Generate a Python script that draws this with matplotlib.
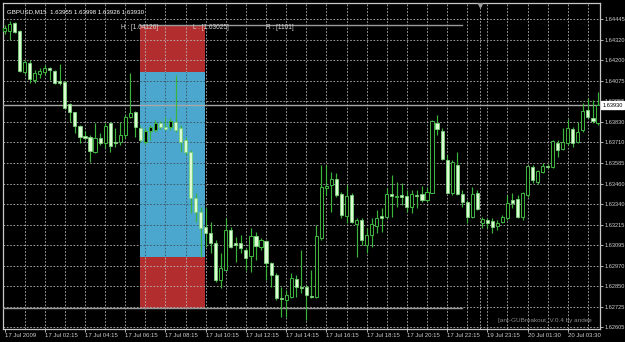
import matplotlib
matplotlib.use("Agg")
import matplotlib.pyplot as plt
from matplotlib.patches import Rectangle
from matplotlib.transforms import blended_transform_factory
import numpy as np

# GBPUSD M15 candles (left to right)
opens = [1.64373, 1.64373, 1.64421, 1.64373, 1.64128, 1.64182, 1.64080, 1.64116, 1.64128, 1.64152,
         1.64134, 1.64074, 1.64068, 1.63937, 1.63889, 1.63806, 1.63746, 1.63740, 1.63651, 1.63734,
         1.63704, 1.63824, 1.63710, 1.63710, 1.63752, 1.63860, 1.63889, 1.63794, 1.63710, 1.63776,
         1.63782, 1.63824, 1.63800, 1.63800, 1.63830, 1.63794, 1.63722, 1.63651, 1.63376, 1.63292,
         1.63203, 1.63167, 1.63107, 1.62886, 1.62946, 1.63185, 1.63107, 1.63107, 1.63066, 1.63030,
         1.63149, 1.63083, 1.63119, 1.62988, 1.62916, 1.62779, 1.62767, 1.62785, 1.62892, 1.62845,
         1.62845, 1.62791, 1.62785, 1.63137, 1.63436, 1.63454, 1.63489, 1.63400, 1.63268, 1.63394,
         1.63221, 1.63245, 1.63095, 1.63155, 1.63209, 1.63268, 1.63262, 1.63400, 1.63382, 1.63394,
         1.63388, 1.63322, 1.63394, 1.63400, 1.63364, 1.63406, 1.63824, 1.63776, 1.63603, 1.63406,
         1.63573, 1.63400, 1.63352, 1.63262, 1.63406, 1.63227, 1.63245, 1.63239, 1.63209, 1.63233,
         1.63257, 1.63364, 1.63370, 1.63262, 1.63394, 1.63561, 1.63471, 1.63531, 1.63567, 1.63561,
         1.63704, 1.63668, 1.63704, 1.63788, 1.63710, 1.63782, 1.63901, 1.63854, 1.63824]
highs = [1.64409, 1.64433, 1.64427, 1.64379, 1.64200, 1.64200, 1.64140, 1.64152, 1.64170, 1.64158,
         1.64140, 1.64176, 1.64074, 1.63943, 1.63889, 1.63812, 1.63776, 1.63752, 1.63824, 1.63764,
         1.63824, 1.63830, 1.63794, 1.63830, 1.63871, 1.64122, 1.63895, 1.63806, 1.63794, 1.63812,
         1.63842, 1.63836, 1.63860, 1.63854, 1.64110, 1.63812, 1.63740, 1.63662, 1.63406, 1.63322,
         1.63322, 1.63233, 1.63125, 1.63048, 1.63257, 1.63203, 1.63143, 1.63155, 1.63077, 1.63197,
         1.63173, 1.63137, 1.63125, 1.62994, 1.62928, 1.62845, 1.62827, 1.62928, 1.62916, 1.63066,
         1.62857, 1.62946, 1.63215, 1.63573, 1.63573, 1.63531, 1.63525, 1.63412, 1.63454, 1.63406,
         1.63257, 1.63257, 1.63197, 1.63257, 1.63304, 1.63316, 1.63436, 1.63513, 1.63471, 1.63466,
         1.63424, 1.63424, 1.63424, 1.63448, 1.63442, 1.63842, 1.63871, 1.63794, 1.63633, 1.63603,
         1.63651, 1.63424, 1.63364, 1.63442, 1.63424, 1.63262, 1.63257, 1.63257, 1.63245, 1.63274,
         1.63394, 1.63406, 1.63394, 1.63412, 1.63573, 1.63573, 1.63543, 1.63585, 1.63579, 1.63722,
         1.63722, 1.63794, 1.63848, 1.63800, 1.63830, 1.63943, 1.63973, 1.63961, 1.64009]
lows = [1.64355, 1.64319, 1.64361, 1.64128, 1.64116, 1.64062, 1.64062, 1.64092, 1.64110, 1.64080,
        1.64056, 1.64051, 1.63907, 1.63830, 1.63764, 1.63704, 1.63722, 1.63591, 1.63645, 1.63692,
        1.63674, 1.63651, 1.63680, 1.63692, 1.63734, 1.63854, 1.63740, 1.63710, 1.63698, 1.63722,
        1.63770, 1.63788, 1.63782, 1.63782, 1.63770, 1.63651, 1.63633, 1.63286, 1.63233, 1.63024,
        1.63083, 1.63048, 1.62874, 1.62839, 1.62946, 1.63077, 1.62994, 1.63048, 1.62946, 1.62934,
        1.63006, 1.63066, 1.62886, 1.62845, 1.62767, 1.62666, 1.62666, 1.62779, 1.62785, 1.62809,
        1.62648, 1.62779, 1.62779, 1.63125, 1.63394, 1.63292, 1.63382, 1.63257, 1.63227, 1.63227,
        1.63024, 1.63095, 1.63048, 1.63083, 1.63167, 1.63173, 1.63257, 1.63262, 1.63322, 1.63334,
        1.63292, 1.63286, 1.63316, 1.63352, 1.63352, 1.63406, 1.63752, 1.63603, 1.63406, 1.63394,
        1.63394, 1.63322, 1.63227, 1.63257, 1.63304, 1.63197, 1.63197, 1.63167, 1.63185, 1.63227,
        1.63245, 1.63316, 1.63257, 1.63245, 1.63382, 1.63466, 1.63460, 1.63525, 1.63555, 1.63555,
        1.63621, 1.63662, 1.63692, 1.63680, 1.63704, 1.63770, 1.63854, 1.63824, 1.63812]
closes = [1.64391, 1.64415, 1.64367, 1.64134, 1.64188, 1.64086, 1.64122, 1.64134, 1.64152, 1.64140,
          1.64062, 1.64062, 1.63913, 1.63889, 1.63806, 1.63740, 1.63734, 1.63656, 1.63734, 1.63704,
          1.63806, 1.63686, 1.63704, 1.63752, 1.63860, 1.63883, 1.63800, 1.63722, 1.63776, 1.63800,
          1.63824, 1.63800, 1.63788, 1.63836, 1.63782, 1.63710, 1.63651, 1.63376, 1.63292, 1.63197,
          1.63167, 1.63107, 1.62886, 1.62958, 1.63185, 1.63083, 1.63095, 1.63077, 1.63018, 1.63149,
          1.63089, 1.63125, 1.62988, 1.62916, 1.62779, 1.62773, 1.62797, 1.62898, 1.62845, 1.62839,
          1.62797, 1.62785, 1.63149, 1.63442, 1.63448, 1.63489, 1.63394, 1.63274, 1.63388, 1.63233,
          1.63245, 1.63125, 1.63155, 1.63221, 1.63257, 1.63257, 1.63400, 1.63388, 1.63388, 1.63382,
          1.63322, 1.63400, 1.63388, 1.63364, 1.63412, 1.63836, 1.63788, 1.63609, 1.63406, 1.63591,
          1.63400, 1.63352, 1.63262, 1.63400, 1.63310, 1.63251, 1.63227, 1.63203, 1.63227, 1.63262,
          1.63346, 1.63346, 1.63262, 1.63406, 1.63567, 1.63483, 1.63537, 1.63567, 1.63561, 1.63716,
          1.63662, 1.63710, 1.63794, 1.63704, 1.63770, 1.63895, 1.63860, 1.63836, 1.63930]

price_ticks = [1.64445, 1.64320, 1.64200, 1.64075, 1.63955, 1.63830, 1.63710, 1.63585,
               1.63460, 1.63340, 1.63215, 1.63095, 1.62970, 1.62850, 1.62725, 1.62605]
time_labels = ["17 Jul 2009", "17 Jul 02:15", "17 Jul 04:15", "17 Jul 06:15", "17 Jul 08:15",
               "17 Jul 10:15", "17 Jul 12:15", "17 Jul 14:15", "17 Jul 16:15", "17 Jul 18:15",
               "17 Jul 20:15", "17 Jul 22:15", "19 Jul 23:15", "20 Jul 01:30", "20 Jul 03:30"]
bid = 1.63930
title_ohlc = "GBPUSD,M15  1.63955 1.63998 1.63926 1.63930"
range_high = 1.64126
range_low = 1.63025
range_pips = 1101
zone_top = 1.64410
zone_bottom = 1.62720

plt.rcParams['font.family'] = ['Liberation Sans', 'DejaVu Sans']

fig = plt.figure(figsize=(6.25, 3.42), dpi=100, facecolor='black')
ax = fig.add_axes([3/625, 1-329/342, 597/625, 326/342], facecolor='black')

n = len(opens)
x = np.arange(n)
o = np.array(opens); c = np.array(closes)
h = np.array(highs); l = np.array(lows)

ax.set_xlim(-0.3, 118.4)
ax.set_ylim(1.62594, 1.64540)

# breakout box
box_l, box_r = 26.9, 39.8
ax.add_patch(Rectangle((box_l, range_high), box_r-box_l, zone_top-range_high,
                       color='#b22e2e', lw=0, zorder=1))
ax.add_patch(Rectangle((box_l, zone_bottom), box_r-box_l, range_low-zone_bottom,
                       color='#b22e2e', lw=0, zorder=1))
blue = Rectangle((box_l, range_low), box_r-box_l, range_high-range_low,
                 color='#4ba7cd', lw=0, zorder=1)
ax.add_patch(blue)

# dotted grid
gstyle = dict(ls=(0, (2, 2)), lw=0.6)
for p in price_ticks:
    ax.axhline(p, color='#b8b8b8', zorder=2, **gstyle)
    ln = ax.axhline(p, color='#1d4c66', zorder=2.1, **gstyle)
    ln.set_clip_path(blue)
for k in range(4, n, 4):
    ax.axvline(k, color='#b8b8b8', zorder=2, **gstyle)
    ln = ax.axvline(k, color='#1d4c66', zorder=2.1, **gstyle)
    ln.set_clip_path(blue)

# period separator and range lines
ax.axvline(94.5, color='#b8b8b8', zorder=2, **gstyle)
ax.plot([94.5], [1.64528], marker='v', color='#9a9a9a', ms=3, zorder=6)
ax.plot([box_l, 91.0], [zone_top, zone_top], color='#9a9a9a', lw=1, zorder=3)
ax.plot([-0.3, 91.0], [zone_bottom, zone_bottom], color='#9a9a9a', lw=1, zorder=3)
ax.axhline(bid, color='#a8a8a8', lw=1, zorder=3)

# candles
wick = '#3ab43a'
ax.vlines(x, l, h, color=wick, lw=0.85, zorder=4)
up = c >= o
bot = np.minimum(o, c)
hgt = np.maximum(np.abs(c - o), 0.00002)
ax.bar(x[up], hgt[up], bottom=bot[up], width=0.62, color='black',
       edgecolor='#3fb83f', lw=0.7, zorder=5)
ax.bar(x[~up], hgt[~up], bottom=bot[~up], width=0.62, color='#dcfcd4',
       edgecolor='#7ad27a', lw=0.6, zorder=5)

# axes frame and ticks
for s in ax.spines.values():
    s.set_color('#c8c8c8')
    s.set_linewidth(0.9)
ax.yaxis.tick_right()
ax.set_yticks(price_ticks)
ax.set_yticklabels([f"{p:.5f}" for p in price_ticks])
ax.tick_params(axis='y', colors='#d0d0d0', labelsize=4.1, length=2, width=0.6, pad=1.5)
ax.set_xticks(range(0, 8 * len(time_labels), 8))
ax.set_xticklabels(time_labels, ha='left')
ax.tick_params(axis='x', colors='#d0d0d0', labelsize=4.3, length=2, width=0.6, pad=1.2)

tr = blended_transform_factory(ax.transAxes, ax.transData)
ax.text(1.004, bid, f"{bid:.5f}", transform=tr, fontsize=4.1, color='black', va='center',
        ha='left', bbox=dict(boxstyle='square,pad=0.25', fc='white', ec='white'), zorder=10,
        clip_on=False)

ax.text(0.006, 0.982, title_ohlc, transform=ax.transAxes, color='white', fontsize=4.4,
        va='top', ha='left')
ax.text(23.2, 1.64394, f"H : [{range_high:.5f}]", color='#d4d4d4', fontsize=4.7, va='center')
ax.text(37.4, 1.64394, f"L : [{range_low:.5f}]", color='#d4d4d4', fontsize=4.7, va='center')
ax.text(52.0, 1.64394, f"R : [{range_pips}]", color='#d4d4d4', fontsize=4.7, va='center')
ax.text(0.987, 0.018, "[ant-GUBreakout_V.0.4 by andee", transform=ax.transAxes,
        color='#8c8c8c', fontsize=4.6, ha='right', va='bottom')

fig.savefig("out.png", dpi=100, facecolor='black')
